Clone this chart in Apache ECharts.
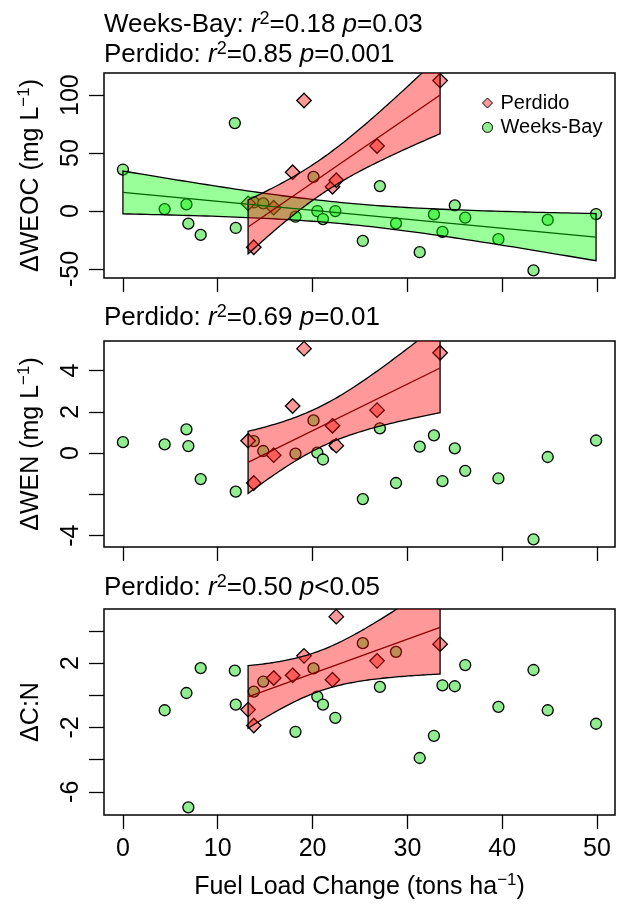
<!DOCTYPE html>
<html>
<head>
<meta charset="utf-8">
<script src="https://cdn.jsdelivr.net/npm/echarts@6/dist/echarts.min.js"></script>
<style>
  html, body { margin: 0; padding: 0; background: #fff; }
  #chart { width: 617px; height: 905px; }
</style>
</head>
<body>
<div id="chart"></div>
<script>
// ---- Weeks-Bay sites: fuel load change and response per site ----
const fuelWB = [0, 4.4, 6.7, 6.9, 8.2, 11.8, 11.9, 13.8, 14.8, 18.2, 20.1, 20.5, 21.1,
                22.4, 27.1, 25.3, 28.8, 31.3, 32.8, 33.7, 35.0, 36.1, 39.6, 43.3, 44.8, 49.9];
const weocWB = [35.8, 1.7, 5.7, -10.9, -20.6, 75.9, -14.6, 7.4, 6.6, -4.9, 29.5, 0, -6.9,
                0, 21.5, -25.8, -10.6, -35.5, -2.9, -18, 4.9, -5.7, -24.3, -51.2, -7.7, -2.6];
const wenWB  = [0.53, 0.42, 1.15, 0.34, -1.26, null, -1.87, 0.58, 0.10, -0.03, 1.58, 0.02, -0.31,
                0.39, 1.20, -2.23, -1.45, 0.31, 0.86, -1.36, 0.23, -0.86, -1.23, -4.18, -0.19, 0.61];
const cnWB   = [null, -0.93, 0.14, -6.97, 1.69, 1.53, -0.58, 0.23, 0.85, -2.27, 1.67, -0.08, -0.58,
                -1.40, 0.52, 3.24, 2.70, -3.90, -2.52, 0.62, 0.56, 1.88, -0.72, 1.57, -0.93, -1.77];

// ---- Perdido sites ----
const fuelPD = [13.2, 13.8, 15.9, 17.9, 19.1, 22.1, 22.5, 26.8, 33.45];
const weocPD = [6.6, -31.2, 2.9, 33.5, 95.3, 20.9, 26.6, 56.1, 112.5];
const wenPD  = [0.60, -1.45, -0.10, 2.28, 5.06, 1.32, 0.36, 2.08, 4.86];
const cnPD   = [-0.89, -1.88, 1.07, 1.24, 2.45, 0.97, 4.89, 2.14, 3.18];

// Perdido points left out of each regression (index into fuelPD)
const weocPDOmit = [4];
const wenPDOmit  = [4];
const cnPDOmit   = [];

// ---- axis ticks and labels ----
const xTicks      = [0, 10, 20, 30, 40, 50];
const weocTicks   = [-50, 0, 50, 100];
const weocLabels  = [-50, 0, 50, 100];
const wenTicks    = [-4, -2, 0, 2, 4];
const wenLabels   = [-4, 0, 2, 4];
const cnTicks     = [-6, -4, -2, 0, 2, 4];
const cnLabels    = [-6, -2, 2];

const FONT = '"Liberation Sans", Arial, sans-serif';

// ---- statistics helpers ----
const LG = [0.99999999999980993, 676.5203681218851, -1259.1392167224028, 771.32342877765313,
            -176.61502916214059, 12.507343278686905, -0.13857109526572012,
            9.9843695780195716e-6, 1.5056327351493116e-7];
function lgamma(z) {
  if (z < 0.5) return Math.log(Math.PI / Math.sin(Math.PI * z)) - lgamma(1 - z);
  z -= 1;
  let a = LG[0];
  for (let i = 1; i < 9; i++) a += LG[i] / (z + i);
  const t = z + 7.5;
  return 0.5 * Math.log(2 * Math.PI) + (z + 0.5) * Math.log(t) - t + Math.log(a);
}
function tpdf(t, v) {
  return Math.exp(lgamma((v + 1) / 2) - lgamma(v / 2) - 0.5 * Math.log(v * Math.PI)
                  - (v + 1) / 2 * Math.log(1 + t * t / v));
}
function tHalfArea(T, v) {            // integral of the t density from 0 to T (Simpson)
  const n = 400, h = T / n;
  let s = tpdf(0, v) + tpdf(T, v);
  for (let i = 1; i < n; i++) s += (i % 2 ? 4 : 2) * tpdf(i * h, v);
  return s * h / 3;
}
function tCrit975(v) {
  let lo = 0, hi = 30;
  for (let k = 0; k < 60; k++) {
    const mid = (lo + hi) / 2;
    if (tHalfArea(mid, v) < 0.475) lo = mid; else hi = mid;
  }
  return (lo + hi) / 2;
}

// Least-squares line with its 95% confidence band for the mean
function fitBand(xs, ys, omit) {
  const pts = [];
  xs.forEach((x, i) => { if (ys[i] != null && !omit.includes(i)) pts.push([x, ys[i]]); });
  const n = pts.length;
  const mx = pts.reduce((s, p) => s + p[0], 0) / n;
  const my = pts.reduce((s, p) => s + p[1], 0) / n;
  let sxx = 0, sxy = 0;
  pts.forEach(p => { sxx += (p[0] - mx) ** 2; sxy += (p[0] - mx) * (p[1] - my); });
  const b = sxy / sxx, a = my - b * mx;
  let sse = 0;
  pts.forEach(p => { sse += (p[1] - a - b * p[0]) ** 2; });
  const s = Math.sqrt(sse / (n - 2));
  const t = tCrit975(n - 2);
  const x0 = Math.min(...pts.map(p => p[0])), x1 = Math.max(...pts.map(p => p[0]));
  const upper = [], lower = [];
  const steps = 80;
  for (let k = 0; k <= steps; k++) {
    const x = x0 + (x1 - x0) * k / steps;
    const yh = a + b * x;
    const hw = t * s * Math.sqrt(1 / n + (x - mx) ** 2 / sxx);
    upper.push([x, yh + hw]);
    lower.push([x, yh - hw]);
  }
  return {
    line: [[x0, a + b * x0], [x1, a + b * x1]],
    poly: upper.concat(lower.reverse())
  };
}

function rRange(vals) {
  const v = vals.filter(d => d != null);
  const lo = Math.min(...v), hi = Math.max(...v), d = (hi - lo) * 0.04;
  return [lo - d, hi + d];
}
function pairs(xs, ys) {
  return xs.map((x, i) => [x, ys[i]]).filter(p => p[1] != null);
}

// ---- panel layout ----
const panels = [
  { top: 73,  height: 205, wb: weocWB, pd: weocPD, omit: weocPDOmit, ticks: weocTicks,
    labels: weocLabels, yName: '{t|ΔWEOC (mg L}{s|−1}{t|)}', wbFit: true },
  { top: 341, height: 206, wb: wenWB, pd: wenPD, omit: wenPDOmit, ticks: wenTicks,
    labels: wenLabels, yName: '{t|ΔWEN (mg L}{s|−1}{t|)}', wbFit: false },
  { top: 609, height: 206, wb: cnWB, pd: cnPD, omit: cnPDOmit, ticks: cnTicks,
    labels: cnLabels, yName: '{t|ΔC:N}', wbFit: false }
];

const xRange = rRange(fuelWB.concat(fuelPD));

const textRich = {
  t: { fontSize: 25, fontFamily: FONT, color: '#000', fontWeight: 'normal', lineHeight: 30 },
  s: { fontSize: 17, fontFamily: FONT, color: '#000', fontWeight: 'normal', lineHeight: 17, verticalAlign: 'top' }
};
const titleRich = {
  n: { fontSize: 26, fontFamily: FONT, color: '#000', fontWeight: 'normal', lineHeight: 30 },
  i: { fontSize: 26, fontFamily: FONT, color: '#000', fontWeight: 'normal', lineHeight: 30, fontStyle: 'italic' },
  s: { fontSize: 18, fontFamily: FONT, color: '#000', fontWeight: 'normal', lineHeight: 18, verticalAlign: 'top' }
};

const grids = [], xAxes = [], yAxes = [], series = [];
panels.forEach((p, i) => {
  grids.push({
    left: 104, width: 511, top: p.top, height: p.height,
    show: true, borderColor: '#000', borderWidth: 1.5, backgroundColor: 'transparent'
  });
  const last = i === panels.length - 1;
  xAxes.push({
    type: 'value', gridIndex: i, min: xRange[0], max: xRange[1],
    axisLine: { show: false, onZero: false }, splitLine: { show: false },
    axisTick: { show: true, customValues: xTicks, length: 14, lineStyle: { color: '#000', width: 1.3 } },
    axisLabel: { show: last, customValues: xTicks, fontSize: 25, fontFamily: FONT, color: '#000', margin: 22 },
    name: last ? '{t|Fuel Load Change (tons ha}{s|−1}{t|)}' : '',
    nameLocation: 'middle', nameGap: 57,
    nameTextStyle: { rich: textRich }
  });
  const yr = rRange(p.wb.concat(p.pd));
  yAxes.push({
    type: 'value', gridIndex: i, min: yr[0], max: yr[1],
    axisLine: { show: false, onZero: false }, splitLine: { show: false },
    axisTick: { show: true, customValues: p.ticks, length: 15, lineStyle: { color: '#000', width: 1.3 } },
    axisLabel: { customValues: p.labels, rotate: 90, fontSize: 25, fontFamily: FONT, color: '#000', margin: 20 },
    name: p.yName, nameLocation: 'middle', nameRotate: 90, nameGap: 58,
    nameTextStyle: { rich: textRich }
  });

  series.push({
    name: 'Weeks-Bay', type: 'scatter', xAxisIndex: i, yAxisIndex: i, z: 2,
    symbol: 'circle', symbolSize: 11, data: pairs(fuelWB, p.wb),
    itemStyle: { color: '#90EE90', borderColor: '#000', borderWidth: 1.3, opacity: 1 }
  });
  series.push({
    name: 'Perdido', type: 'scatter', xAxisIndex: i, yAxisIndex: i, z: 2,
    symbol: 'diamond', symbolSize: 14.5, data: pairs(fuelPD, p.pd),
    itemStyle: { color: '#FF9999', borderColor: '#000', borderWidth: 1.3, opacity: 1 }
  });

  const bands = [];
  if (p.wbFit) bands.push({ fit: fitBand(fuelWB, p.wb, []), fill: 'rgba(0,255,0,0.4)', line: '#006400' });
  bands.push({ fit: fitBand(fuelPD, p.pd, p.omit), fill: 'rgba(255,0,0,0.4)', line: '#8B0000' });
  bands.forEach(bd => {
    series.push({
      type: 'custom', xAxisIndex: i, yAxisIndex: i, z: 3, silent: true, clip: true,
      data: [bd.fit.line[0]],
      renderItem: (params, api) => ({
        type: 'polygon',
        shape: { points: bd.fit.poly.map(pt => api.coord(pt)) },
        style: { fill: bd.fill, stroke: '#000', lineWidth: 1.3 }
      })
    });
  });
  bands.forEach(bd => {
    series.push({
      type: 'line', xAxisIndex: i, yAxisIndex: i, z: 4, silent: true,
      symbol: 'none', data: bd.fit.line,
      lineStyle: { color: bd.line, width: 1.3 }
    });
  });
});

const titles = [
  { text: '{n|Weeks-Bay: }{i|r}{s|2}{n|=0.18 }{i|p}{n|=0.03}', top: 10 },
  { text: '{n|Perdido: }{i|r}{s|2}{n|=0.85 }{i|p}{n|=0.001}', top: 40 },
  { text: '{n|Perdido: }{i|r}{s|2}{n|=0.69 }{i|p}{n|=0.01}', top: 303 },
  { text: '{n|Perdido: }{i|r}{s|2}{n|=0.50 }{i|p}{n|<0.05}', top: 573 }
].map(t => ({
  text: t.text, top: t.top, left: 104, padding: 0,
  textStyle: { fontWeight: 'normal', rich: titleRich }
}));

const chart = echarts.init(document.getElementById('chart'), null, { renderer: 'canvas' });
chart.setOption({
  animation: false,
  backgroundColor: '#fff',
  title: titles,
  legend: {
    left: 477, top: 88, orient: 'vertical', selectedMode: false,
    itemWidth: 10, itemHeight: 10, itemGap: 4.4,
    data: [{ name: 'Perdido', icon: 'diamond' }, { name: 'Weeks-Bay', icon: 'circle' }],
    itemStyle: { borderColor: '#000', borderWidth: 1 },
    formatter: '{k|{name}}',
    textStyle: {
      fontSize: 20, lineHeight: 20, fontFamily: FONT, color: '#000',
      rich: { k: { fontSize: 20, lineHeight: 20, fontFamily: FONT, color: '#000', padding: [0, 0, 0, 3] } }
    }
  },
  grid: grids,
  xAxis: xAxes,
  yAxis: yAxes,
  series: series
});
</script>
</body>
</html>
